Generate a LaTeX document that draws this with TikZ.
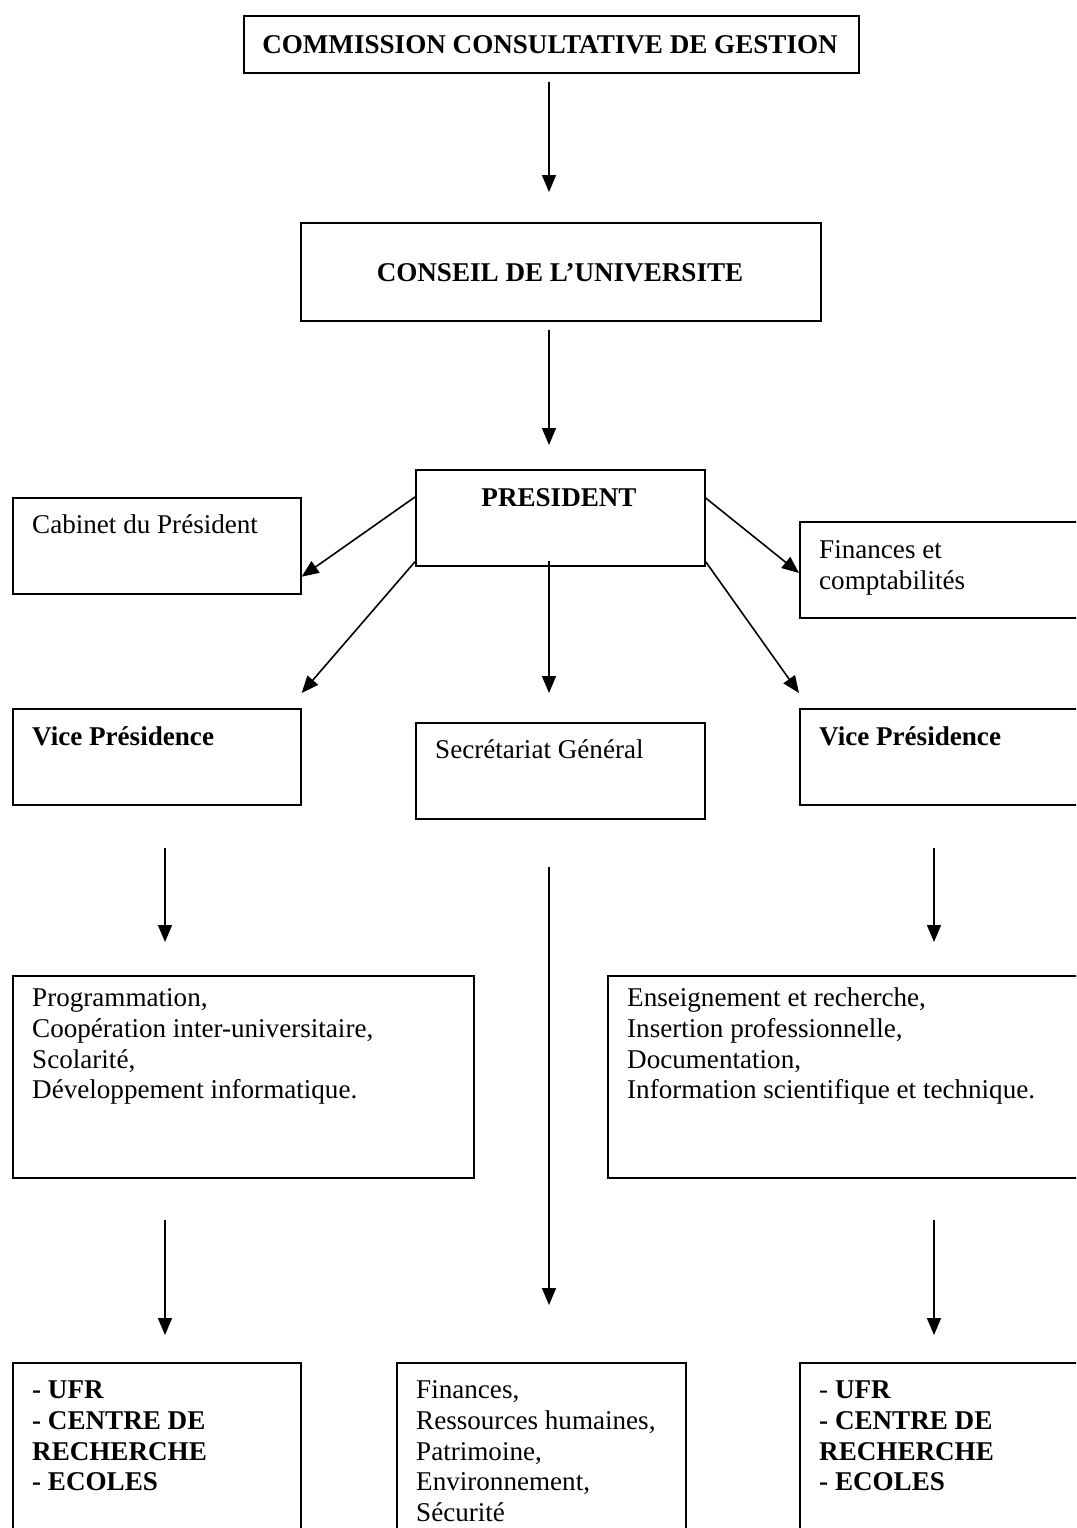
\documentclass[tikz,border=0pt]{standalone}
\usepackage{fontspec}
\setmainfont{Liberation Serif}
\usetikzlibrary{arrows.meta}
\begin{document}
\begin{tikzpicture}[x=1pt,y=-1pt,
  box/.style={draw,line width=1.7pt,inner sep=0pt,anchor=north west},
  txt/.style={inner sep=0pt,anchor=north west,align=left,font=\fontsize{27.1}{30.9}\selectfont},
  ctxt/.style={inner sep=0pt,anchor=base,font=\fontsize{27.1}{30.9}\selectfont\bfseries},
  arr/.style={line width=1.6pt,-{Triangle[length=17pt,width=14pt]}}]
\useasboundingbox (0,0) rectangle (1076,1528);
\clip (0,0) rectangle (1076,1528);
\fill[white] (0,0) rectangle (1076,1528);
\newcommand{\fr}{\rule{0pt}{22pt}}
% boxes
\node[box,minimum width=615pt,minimum height=57pt] (cmg) at (243,15) {};
\node[box,minimum width=520pt,minimum height=98pt] (cons) at (300,222) {};
\node[box,minimum width=289pt,minimum height=96pt] (pres) at (415,469) {};
\node[box,minimum width=288pt,minimum height=96pt] (cab) at (12,497) {};
\node[box,minimum width=300pt,minimum height=96pt] (fin) at (799,521) {};
\node[box,minimum width=288pt,minimum height=96pt] (vpl) at (12,708) {};
\node[box,minimum width=289pt,minimum height=96pt] (sec) at (415,722) {};
\node[box,minimum width=300pt,minimum height=96pt] (vpr) at (799,708) {};
\node[box,minimum width=461pt,minimum height=202pt] (prog) at (12,975) {};
\node[box,minimum width=490pt,minimum height=202pt] (ens) at (607,975) {};
\node[box,minimum width=288pt,minimum height=190pt] (bl) at (12,1362) {};
\node[box,minimum width=289pt,minimum height=190pt] (bc) at (396,1362) {};
\node[box,minimum width=300pt,minimum height=190pt] (br) at (799,1362) {};
% texts
\node[ctxt] (tcmg) at (550,53) {COMMISSION CONSULTATIVE DE GESTION};
\node[ctxt] (tcons) at (560,281) {CONSEIL DE L’UNIVERSITE};
\node[ctxt] (tpres) at (559,506) {PRESIDENT};
\node[txt] (tcab) at (32,533-22) {\fr Cabinet du Président};
\node[txt] (tfin) at (819,558-22) {\fr Finances et\\comptabilités};
\node[txt,font=\fontsize{27.1}{30.9}\selectfont\bfseries] (tvpl) at (32,745-22) {\fr Vice Présidence};
\node[txt] (tsec) at (435,758-22) {\fr Secrétariat Général};
\node[txt,font=\fontsize{27.1}{30.9}\selectfont\bfseries] (tvpr) at (819,745-22) {\fr Vice Présidence};
\node[txt] (tprog) at (32,1006-22) {\fr Programmation,\\Coopération inter-universitaire,\\Scolarité,\\Développement informatique.};
\node[txt] (tens) at (627,1006-22) {\fr Enseignement et recherche,\\Insertion professionnelle,\\Documentation,\\Information scientifique et technique.};
\node[txt,font=\fontsize{27.1}{30.9}\selectfont\bfseries] (tbl) at (32,1398-22) {\fr - UFR\\- CENTRE DE\\RECHERCHE\\- ECOLES};
\node[txt] (tbc) at (416,1398-22) {\fr Finances,\\Ressources humaines,\\Patrimoine,\\Environnement,\\Sécurité};
\node[txt] (tbr) at (819,1398-22) {\fr - \textbf{UFR}\\\textbf{- CENTRE DE}\\\textbf{RECHERCHE}\\\textbf{- ECOLES}};
% arrows
\draw[arr] ([xshift=306pt,yshift=-8pt]cmg.south west) -- ([xshift=249pt,yshift=30pt]cons.north west);
\draw[arr] ([xshift=249pt,yshift=-8pt]cons.south west) -- ([xshift=134pt,yshift=24pt]pres.north west);
\draw[arr] ([yshift=-28pt]pres.north west) -- ([yshift=18pt]cab.south east);
\draw[arr] ([yshift=-29pt]pres.north east) -- ([yshift=-52pt]fin.north west);
\draw[arr] ([yshift=5pt]pres.south west) -- ([yshift=15pt]vpl.north east);
\draw[arr] ([yshift=5pt]pres.south east) -- ([yshift=15pt]vpr.north west);
\draw[arr] ([xshift=134pt,yshift=6pt]pres.south west) -- ([xshift=134pt,yshift=29pt]sec.north west);
\draw[arr] ([xshift=153pt,yshift=-42pt]vpl.south west) -- ([xshift=153pt,yshift=33pt]prog.north west);
\draw[arr] ([xshift=135pt,yshift=-42pt]vpr.south west) -- ([xshift=327pt,yshift=33pt]ens.north west);
\draw[arr] ([xshift=134pt,yshift=-47pt]sec.south west) -- ([xshift=153pt,yshift=57pt]bc.north west);
\draw[arr] ([xshift=153pt,yshift=-41pt]prog.south west) -- ([xshift=153pt,yshift=27pt]bl.north west);
\draw[arr] ([xshift=327pt,yshift=-41pt]ens.south west) -- ([xshift=135pt,yshift=27pt]br.north west);
\end{tikzpicture}
\end{document}
